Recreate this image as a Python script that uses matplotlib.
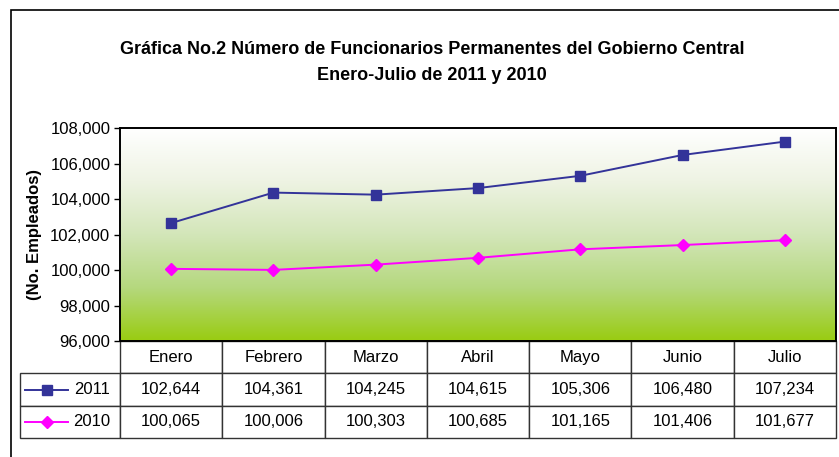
import matplotlib
matplotlib.use('Agg')
import matplotlib.pyplot as plt
import numpy as np
from matplotlib.colors import LinearSegmentedColormap
from matplotlib.patches import Rectangle

plt.rcParams['font.family'] = ['Liberation Sans', 'DejaVu Sans']

months = ['Enero', 'Febrero', 'Marzo', 'Abril', 'Mayo', 'Junio', 'Julio']
emp_2011 = [102644, 104361, 104245, 104615, 105306, 106480, 107234]
emp_2010 = [100065, 100006, 100303, 100685, 101165, 101406, 101677]
yticks = [96000, 98000, 100000, 102000, 104000, 106000, 108000]

W, H = 839, 457
fig = plt.figure(figsize=(W / 100, H / 100), dpi=100)
fig.patch.set_facecolor('white')

# outer chart frame (runs off the right/bottom of the image)
fig.patches.append(Rectangle((11 / W, -0.2), 2, 1 - 10 / H + 0.2,
                             transform=fig.transFigure, fill=False,
                             ec='black', lw=1.2))

ax = fig.add_axes([120 / W, (H - 341) / H, 716 / W, 213 / H])

# background gradient white -> green
cmap = LinearSegmentedColormap.from_list(
    'bg', [(0, '#99cc11'), (0.25, '#b5d87e'), (0.5, '#d3e6b9'),
           (0.75, '#eef3e3'), (1, '#ffffff')])
grad = np.linspace(0, 1, 256).reshape(-1, 1)
ax.imshow(grad, extent=[0, 1, 0, 1], transform=ax.transAxes, cmap=cmap,
          aspect='auto', origin='lower', zorder=0)

x = np.arange(len(months))
ax.plot(x, emp_2011, color='#333399', marker='s', ms=7.5, lw=1.4, zorder=3)
ax.plot(x, emp_2010, color='#ff00ff', marker='D', ms=6.5, lw=1.4, zorder=3)

ax.set_xlim(-0.5, len(months) - 0.5)
ax.set_ylim(96000, 108000)
ax.set_yticks(yticks)
ax.set_yticklabels([f'{v:,}' for v in yticks], fontsize=12)
ax.tick_params(axis='y', length=4, width=1, pad=3)
ax.set_xticks([])
for s in ax.spines.values():
    s.set_linewidth(1.4)
ax.set_ylabel('(No. Empleados)', fontsize=12, fontweight='bold', labelpad=6)

# data table under the plot
cells = [[''] + months,
         ['2011'] + [f'{v:,}' for v in emp_2011],
         ['2010'] + [f'{v:,}' for v in emp_2010]]
left = -100 / 716
tbl = ax.table(cellText=cells, cellLoc='center',
               colWidths=[100] + [716 / 7] * 7,
               bbox=[left, -97 / 213, 1 - left, 97 / 213])
tbl.auto_set_font_size(False)
tbl.set_fontsize(12)
for (r, c), cell in tbl.get_celld().items():
    cell.set_edgecolor('#333333')
    cell.set_linewidth(1.0)
    cell.set_facecolor('white')
    if r == 0 and c == 0:
        cell.visible_edges = ''
    if c == 0 and r > 0:
        cell._loc = 'right'
        cell.PAD = 0.1
        cell.get_text().set_horizontalalignment('right')

# legend keys inside the row labels
row_h = 97 / 213 / 3
for i, (col, mk, ms) in enumerate([('#333399', 's', 6.5), ('#ff00ff', 'D', 6)]):
    yk = -row_h * (1.5 + i)
    ax.plot([-95 / 716, -52 / 716], [yk, yk], color=col, lw=1.4,
            transform=ax.transAxes, clip_on=False, zorder=5)
    ax.plot([-73.5 / 716], [yk], color=col, marker=mk, ms=ms,
            transform=ax.transAxes, clip_on=False, zorder=5)

fig.text(432 / W, 1 - 50 / H,
         'Gráfica No.2 Número de Funcionarios Permanentes del Gobierno Central',
         ha='center', va='center', fontsize=13, fontweight='bold')
fig.text(432 / W, 1 - 76 / H, 'Enero-Julio de 2011 y 2010',
         ha='center', va='center', fontsize=13, fontweight='bold')

fig.savefig('out.png', dpi=100)
